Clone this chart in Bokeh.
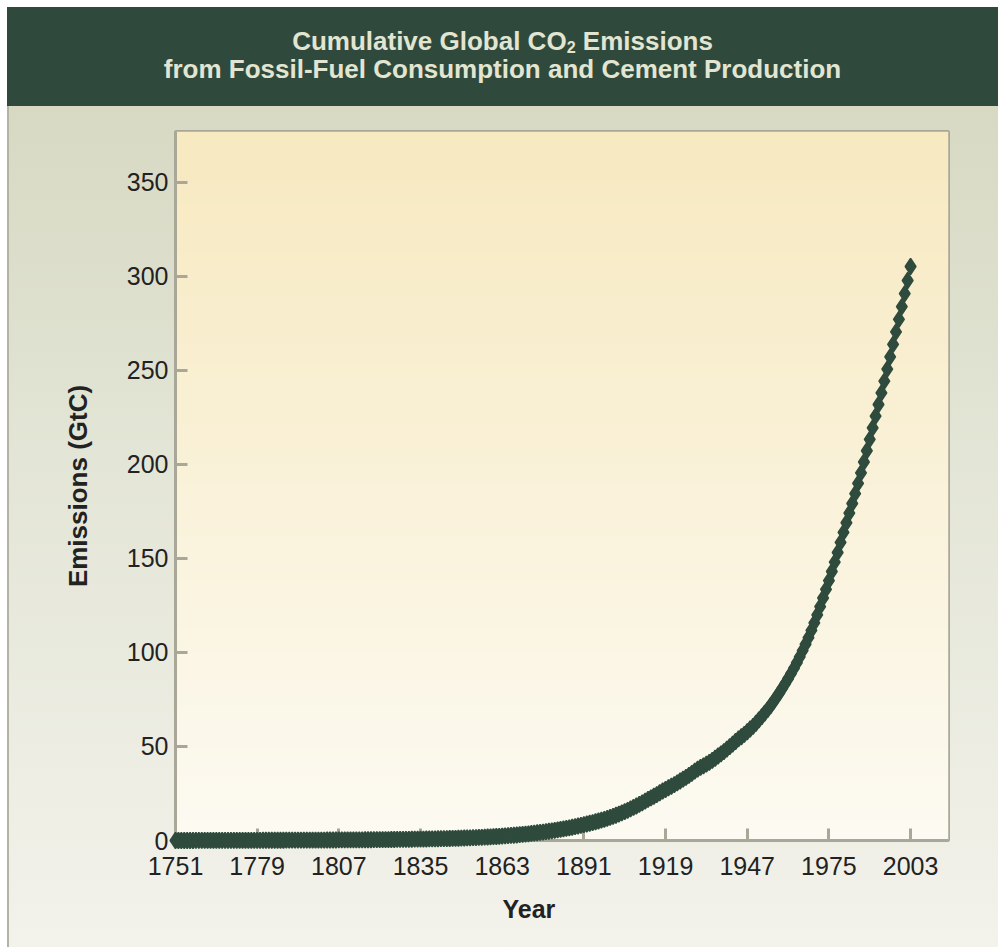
import numpy as np
from bokeh.plotting import figure
from bokeh.models import Range1d, FixedTicker, Div, Title
from bokeh.layouts import column
from bokeh.embed import file_html
from bokeh.resources import INLINE

# ---------------- data ----------------
years = list(range(1751, 2004))
# cumulative global CO2 emissions (GtC)
emissions = [
    0.003, 0.006, 0.009, 0.012, 0.015, 0.018, 0.021, 0.024, 0.027, 0.030,
    0.034, 0.038, 0.042, 0.046, 0.050, 0.054, 0.058, 0.062, 0.066, 0.070,
    0.074, 0.078, 0.082, 0.086, 0.090, 0.094, 0.098, 0.102, 0.106, 0.111,
    0.116, 0.121, 0.126, 0.131, 0.136, 0.141, 0.146, 0.151, 0.156, 0.161,
    0.167, 0.173, 0.179, 0.185, 0.191, 0.197, 0.204, 0.211, 0.218, 0.226,
    0.234, 0.244, 0.253, 0.262, 0.271, 0.281, 0.291, 0.301, 0.311, 0.321,
    0.332, 0.343, 0.354, 0.365, 0.377, 0.390, 0.404, 0.418, 0.432, 0.446,
    0.460, 0.475, 0.491, 0.507, 0.524, 0.541, 0.559, 0.577, 0.595, 0.619,
    0.642, 0.665, 0.689, 0.713, 0.738, 0.767, 0.796, 0.826, 0.857, 0.890,
    0.924, 0.960, 0.997, 1.036, 1.079, 1.122, 1.168, 1.215, 1.265, 1.319,
    1.373, 1.430, 1.489, 1.558, 1.629, 1.705, 1.782, 1.860, 1.943, 2.034,
    2.129, 2.225, 2.328, 2.440, 2.559, 2.681, 2.811, 2.946, 3.088, 3.235,
    3.391, 3.564, 3.748, 3.922, 4.110, 4.301, 4.495, 4.691, 4.901, 5.137,
    5.380, 5.636, 5.908, 6.183, 6.460, 6.741, 7.036, 7.363, 7.690, 8.046,
    8.418, 8.792, 9.162, 9.545, 9.951, 10.370, 10.810, 11.275, 11.782, 12.316,
    12.868, 13.434, 14.051, 14.675, 15.338, 16.045, 16.829, 17.579, 18.364, 19.183,
    20.019, 20.898, 21.841, 22.691, 23.529, 24.430, 25.385, 26.321, 27.127, 28.059,
    28.862, 29.707, 30.677, 31.640, 32.615, 33.598, 34.660, 35.725, 36.870, 37.923,
    38.863, 39.710, 40.603, 41.576, 42.603, 43.733, 44.942, 46.084, 47.276, 48.575,
    49.909, 51.251, 52.642, 54.025, 55.185, 56.423, 57.815, 59.284, 60.703, 62.333,
    64.100, 65.895, 67.736, 69.601, 71.643, 73.820, 76.090, 78.420, 80.874, 83.443,
    86.023, 88.709, 91.542, 94.537, 97.667, 100.955, 104.348, 107.914, 111.694, 115.747,
    119.955, 124.331, 128.945, 133.568, 138.164, 143.028, 148.054, 153.141, 158.510, 163.825,
    168.977, 174.090, 179.184, 184.464, 189.903, 195.510, 201.262, 207.227, 213.324, 219.451,
    225.668, 231.832, 237.994, 244.260, 250.658, 257.200, 263.851, 270.494, 277.104, 283.869,
    290.796, 297.792, 305.208,
]
x_ticks = [1751, 1779, 1807, 1835, 1863, 1891, 1919, 1947, 1975, 2003]
y_ticks = [0, 50, 100, 150, 200, 250, 300, 350]
x_label = "Year"
y_label = "Emissions (GtC)"
title_line1 = "Cumulative Global CO<sub>2</sub> Emissions"
title_line2 = "from Fossil-Fuel Consumption and Cement Production"

# ---------------- styles ----------------
FONT = "Liberation Sans"
BANNER = "#2f4a3c"
TITLE_COLOR = "#e2e5d1"
GREEN = "#2f4b3d"
FRAME = "#a9a797"
TEXT = "#222222"
PLOT_TOP = (247, 233, 192)
PLOT_BOTTOM = (252, 250, 242)
W = 991
BANNER_H = 99
FIG_H = 841
PAD = 7

sub_style = "font-size:62%;vertical-align:-0.18em;line-height:1;"
banner = Div(
    text=(
        f'<div style="width:{W}px;height:{BANNER_H}px;box-sizing:border-box;padding-top:20px;'
        f'color:{TITLE_COLOR};font-family:\'{FONT}\';font-weight:bold;'
        f'font-size:26px;line-height:28px;text-align:center;">'
        f'<div>{title_line1.replace("<sub>", f"<sub style={chr(34)}{sub_style}{chr(34)}>")}</div>'
        f'<div>{title_line2}</div></div>'
    ),
    width=W, height=BANNER_H,
    margin=(PAD, 0, 0, PAD),
    styles={"background-color": BANNER},
)

x0, x1 = 1751, 2016
y0, y1 = 0, 377

p = figure(
    width=W, height=FIG_H,
    x_range=Range1d(x0, x1), y_range=Range1d(y0, y1),
    output_backend="svg", toolbar_location=None,
    min_border_left=168, min_border_right=50,
    min_border_top=25, min_border_bottom=107,
    margin=(0, 0, 0, PAD),
)
p.styles = {
    "background": "linear-gradient(to bottom, #d7d9c3 0%, #e3e5d6 42%, #f3f2eb 100%)",
    "box-shadow": "inset 2px 0 0 #b4b3a3",
}
p.border_fill_alpha = 0
p.background_fill_alpha = 0

# vertical gradient inside the plot frame
n = 400
img = np.empty((n, 1), dtype=np.uint32)
view = img.view(dtype=np.uint8).reshape((n, 1, 4))
t = np.linspace(0.0, 1.0, n)  # 0 bottom -> 1 top
for c in range(3):
    view[:, 0, c] = np.round(PLOT_BOTTOM[c] + (PLOT_TOP[c] - PLOT_BOTTOM[c]) * t).astype(np.uint8)
view[:, 0, 3] = 255
bg = p.image_rgba(image=[img], x=x0, y=y0, dw=x1 - x0, dh=y1 - y0)
bg.level = "image"

r = p.scatter(years, emissions, marker="diamond", size=16,
              fill_color=GREEN, line_color=GREEN, line_width=1.5)
r.level = "overlay"

p.xgrid.visible = False
p.ygrid.visible = False
p.outline_line_color = FRAME
p.outline_line_width = 3
p.outline_line_alpha = 1

p.xaxis.ticker = FixedTicker(ticks=x_ticks)
p.yaxis.ticker = FixedTicker(ticks=y_ticks)
for ax in (p.xaxis[0], p.yaxis[0]):
    ax.axis_line_color = FRAME
    ax.axis_line_width = 3
    ax.major_tick_in = 12
    ax.major_tick_out = 0
    ax.major_tick_line_color = FRAME
    ax.major_tick_line_width = 3
    ax.minor_tick_line_color = None
    ax.major_label_text_font = FONT
    ax.major_label_text_font_size = "25px"
    ax.major_label_text_color = TEXT
p.xaxis.major_label_standoff = 16
p.yaxis.major_label_standoff = 7

p.yaxis.axis_label = y_label
p.yaxis.axis_label_text_font = FONT
p.yaxis.axis_label_text_font_size = "26px"
p.yaxis.axis_label_text_font_style = "bold"
p.yaxis.axis_label_text_color = TEXT
p.yaxis.axis_label_standoff = 31

p.add_layout(Title(text=x_label, align="left", offset=327, text_font=FONT,
                   text_font_size="25px", text_font_style="bold",
                   text_color=TEXT, standoff=31), "below")

layout = column(banner, p, spacing=0)
open("out.html", "w").write(file_html(layout, INLINE))
